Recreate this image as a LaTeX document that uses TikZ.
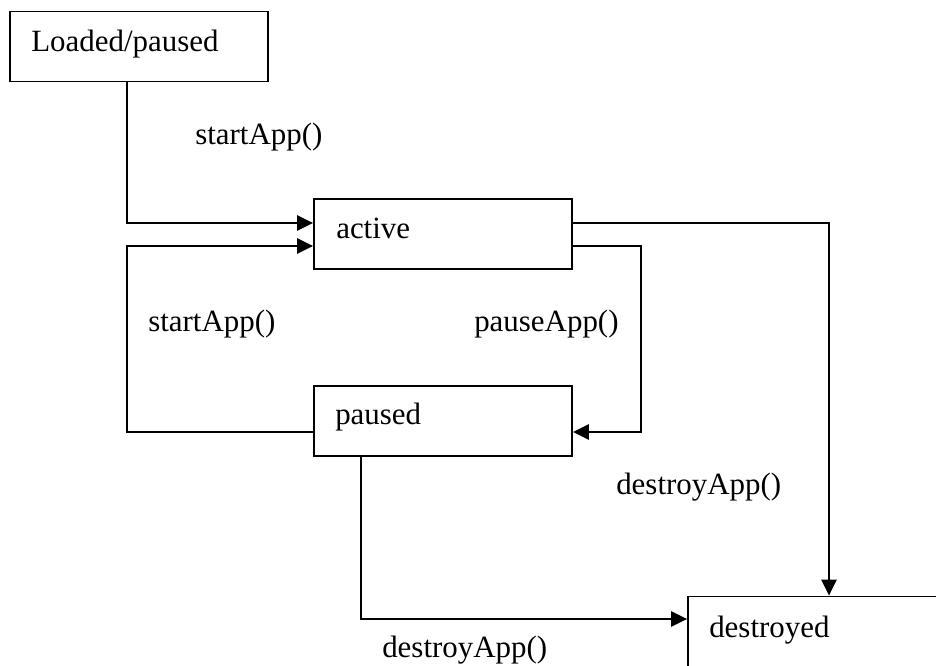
\documentclass[tikz,border=0pt]{standalone}
\usepackage{fontspec}
\setmainfont{Liberation Serif}
\usetikzlibrary{arrows.meta}
\begin{document}
\begin{tikzpicture}[x=0.75pt,y=-0.75pt,
  statebox/.style={draw,line width=1.4pt,minimum width=193.5pt,minimum height=52.5pt,inner sep=0pt},
  txt/.style={anchor=base west,inner sep=0pt,font=\fontsize{23.2}{27}\selectfont},
  arr/.style={line width=1.4pt,-{Triangle[length=12pt,width=11.5pt]}},
  ln/.style={line width=1.4pt}]
\useasboundingbox (0,0) rectangle (936,666);
\clip (0,0) rectangle (936,666);

% states
\node[statebox] (load) at (139,46.5) {};
\node[statebox] (active) at (443,234) {};
\node[statebox] (paused) at (443,421) {};
\node[statebox] (destroyed) at (817,631.5) {};

\node[txt] (tload) at (31,52) {Loaded/paused};
\node[txt] (tactive) at (336,239) {active};
\node[txt] (tpaused) at (335,425) {paused};
\node[txt] (tdestroyed) at (709,637) {destroyed};

% bend points
\coordinate (c1) at (127,223);
\coordinate (c2) at (127,432);
\coordinate (c3) at (127,246);
\coordinate (c4) at (829,223);
\coordinate (c5) at (641,246);
\coordinate (c6) at (641,432);
\coordinate (c7) at (361,619);

% transitions
\draw[arr] (load.south -| c1) -- (c1) -- (active.west |- c1);
\draw[arr] (paused.west |- c2) -- (c2) -- (c3) -- (active.west |- c3);
\draw[arr] (active.east |- c4) -- (c4) -- (destroyed.north -| c4);
\draw[arr] (active.east |- c5) -- (c5) -- (c6) -- (paused.east |- c6);
\draw[arr] (paused.south -| c7) -- (c7) -- (destroyed.west |- c7);

% labels
\node[txt] (l1) at (195,145) {startApp()};
\node[txt] (l2) at (148,332) {startApp()};
\node[txt] (l3) at (474,332) {pauseApp()};
\node[txt] (l4) at (616,495) {destroyApp()};
\node[txt] (l5) at (382,657) {destroyApp()};
\end{tikzpicture}
\end{document}
